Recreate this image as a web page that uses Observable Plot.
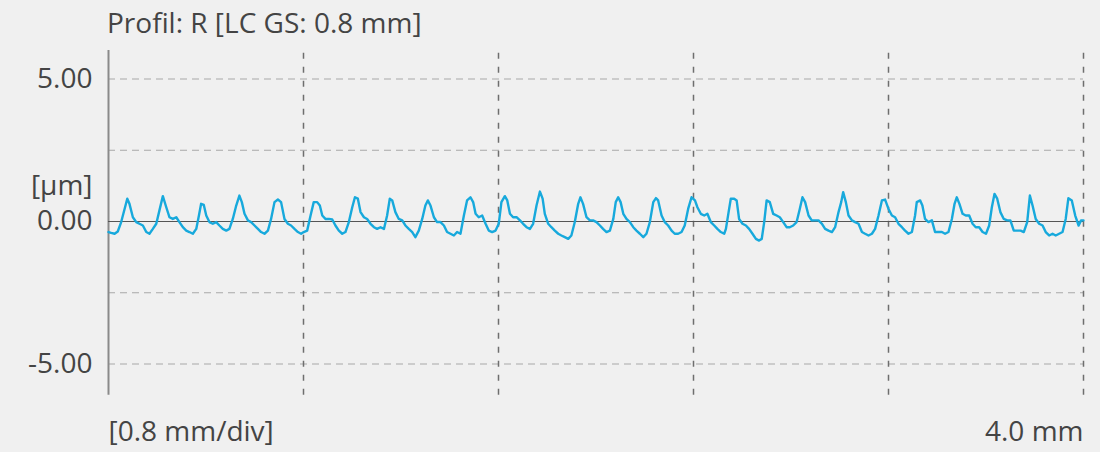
<!DOCTYPE html>
<html>
<head>
<meta charset="utf-8">
<script src="https://cdn.jsdelivr.net/npm/d3@7"></script>
<script src="https://cdn.jsdelivr.net/npm/@observablehq/plot@0.6"></script>
<style>
  html, body { margin: 0; padding: 0; background: #f0f0f0; }
  #wrap { position: relative; width: 1100px; height: 452px; background: #f0f0f0; font-family: "Open Sans", Lato, sans-serif; }
  #title { position: absolute; left: 107px; top: 6px; font-size: 28px; line-height: 32px; color: #444; white-space: nowrap; }
  #chart { position: absolute; left: 0; top: 0; }
</style>
</head>
<body>
<div id="wrap">
  <div id="chart"></div>
  <div id="title">Profil: R [LC GS: 0.8 mm]</div>
</div>
<script>
// Profile position (mm)
const posMm = [
  0.000,0.011,0.025,0.038,0.052,0.066,0.077,0.086,0.100,0.114,0.127,0.141,0.155,0.168,0.182,0.196,0.209,0.223,0.237,0.250,
  0.264,0.278,0.291,0.305,0.319,0.332,0.346,0.360,0.371,0.380,0.391,0.401,0.414,0.428,0.442,0.455,0.469,0.483,0.496,0.510,
  0.524,0.537,0.547,0.558,0.572,0.585,0.599,0.613,0.626,0.640,0.654,0.667,0.681,0.695,0.708,0.722,0.736,0.749,0.763,0.777,
  0.790,0.801,
  0.815,0.829,0.842,0.856,0.867,0.877,0.890,0.904,0.918,0.931,0.945,0.959,0.972,0.986,1.000,1.011,1.023,1.034,1.048,1.061,
  1.075,1.089,1.102,1.116,1.130,1.143,1.154,1.164,1.177,1.191,1.205,1.218,1.232,1.246,1.259,1.273,1.287,1.300,1.310,1.321,
  1.335,1.348,1.362,1.376,1.389,1.403,1.417,1.430,1.444,1.458,1.471,1.485,1.496,1.506,1.519,1.533,1.547,1.560,1.574,1.588,
  1.601,
  1.612,1.626,1.636,1.647,1.660,1.674,1.688,1.701,1.715,1.729,1.742,1.756,1.770,1.781,1.790,1.804,1.817,1.831,1.845,1.858,
  1.872,1.886,1.899,1.913,1.927,1.936,1.947,1.961,1.975,1.988,2.002,2.016,2.029,2.043,2.057,2.071,2.081,2.091,2.101,2.112,
  2.125,2.139,2.153,2.166,2.180,2.194,2.207,2.221,2.235,2.246,2.255,2.269,2.282,2.296,2.310,2.323,2.337,2.351,2.364,2.378,
  2.392,2.406,
  2.416,2.430,2.444,2.457,2.471,2.485,2.498,2.512,2.526,2.533,2.544,2.553,2.567,2.577,2.587,2.601,2.615,2.628,2.642,2.656,
  2.669,2.680,2.690,2.700,2.713,2.727,2.741,2.754,2.768,2.782,2.795,2.809,2.823,2.836,2.847,2.858,2.872,2.885,2.899,2.913,
  2.927,2.940,2.954,2.968,2.981,2.995,3.006,3.014,3.025,3.036,3.050,3.063,3.077,3.091,3.104,3.118,3.132,3.145,3.159,3.173,
  3.186,3.200,3.214,
  3.227,3.241,3.255,3.268,3.282,3.296,3.309,3.316,3.330,3.339,3.350,3.364,3.378,3.391,3.405,3.419,3.432,3.446,3.460,3.471,
  3.480,3.491,3.504,3.517,3.531,3.545,3.558,3.572,3.586,3.600,3.613,3.624,3.635,3.646,3.659,3.673,3.687,3.700,3.714,3.728,
  3.742,3.755,3.769,3.780,3.791,3.804,3.818,3.832,3.845,3.859,3.873,3.886,3.900,3.914,3.927,3.938,3.952,3.966,3.980,3.990,
  4.000
];
// Profile height (µm)
const heightUm = [
  -0.37,-0.40,-0.43,-0.35,-0.02,0.44,0.80,0.62,0.15,-0.02,-0.08,-0.14,-0.37,-0.43,-0.26,-0.08,0.39,0.89,0.50,0.15,
  0.09,0.15,-0.02,-0.20,-0.32,-0.37,-0.43,-0.26,0.21,0.62,0.58,0.21,-0.02,-0.08,-0.02,-0.14,-0.26,-0.32,-0.26,0.09,
  0.56,0.91,0.68,0.27,0.04,-0.02,-0.14,-0.26,-0.37,-0.43,-0.32,0.09,0.68,0.77,0.68,0.09,-0.08,-0.14,-0.26,-0.37,
  -0.43,-0.37,
  -0.32,0.21,0.68,0.68,0.56,0.21,0.09,0.09,0.07,-0.14,-0.32,-0.43,-0.37,-0.02,0.50,0.85,0.80,0.33,0.15,0.09,
  -0.08,-0.20,-0.26,-0.20,-0.26,0.21,0.80,0.74,0.33,0.09,0.04,-0.14,-0.26,-0.37,-0.55,-0.32,0.09,0.56,0.74,0.56,
  0.15,-0.02,-0.02,-0.14,-0.37,-0.43,-0.49,-0.37,-0.43,0.21,0.74,0.85,0.68,0.27,0.15,0.21,-0.08,-0.32,-0.37,-0.32,
  -0.08,
  0.68,0.89,0.74,0.27,0.15,0.15,0.04,-0.08,-0.20,-0.26,-0.08,0.56,1.05,0.80,0.27,-0.08,-0.20,-0.32,-0.43,-0.49,
  -0.55,-0.61,-0.49,-0.02,0.62,0.85,0.62,0.15,0.04,0.04,-0.02,-0.14,-0.26,-0.37,-0.32,0.09,0.68,0.85,0.68,0.27,
  0.09,-0.02,-0.20,-0.32,-0.43,-0.55,-0.43,-0.02,0.68,0.82,0.74,0.21,-0.02,-0.14,-0.32,-0.43,-0.43,-0.37,-0.14,0.44,
  0.85,0.74,
  0.50,0.27,0.21,0.27,-0.02,-0.14,-0.26,-0.37,-0.43,-0.26,0.33,0.80,0.80,0.74,0.09,-0.08,-0.14,-0.26,-0.43,-0.61,
  -0.67,-0.61,-0.02,0.74,0.68,0.27,0.21,0.15,-0.02,-0.20,-0.20,-0.14,-0.02,0.44,0.85,0.68,0.21,0.04,0.04,0.04,
  -0.08,-0.26,-0.32,-0.37,-0.20,0.33,0.68,1.03,0.68,0.21,0.04,-0.02,-0.08,-0.37,-0.43,-0.49,-0.43,-0.26,0.21,0.74,
  0.77,0.44,0.21,
  0.15,-0.08,-0.20,-0.32,-0.43,-0.37,0.21,0.68,0.74,0.56,0.09,-0.02,0.04,-0.37,-0.37,-0.37,-0.43,-0.37,0.09,0.62,
  0.85,0.62,0.27,0.21,0.21,-0.08,-0.20,-0.20,-0.37,-0.43,-0.14,0.50,0.97,0.80,0.33,0.09,0.04,0.04,-0.32,-0.32,
  -0.32,-0.37,-0.02,0.91,0.56,0.09,-0.08,-0.14,-0.37,-0.49,-0.43,-0.49,-0.43,-0.37,0.09,0.82,0.74,0.21,-0.14,0.04,
  0.04
];
const yTicks = [-5, 0, 5];
const yGrid = [-5, -2.5, 2.5, 5];
const xGrid = [0.8, 1.6, 2.4, 3.2, 4.0];
const yUnitLabel = "[µm]";
const xStartLabel = "[0.8 mm/div]";
const xEndLabel = "4.0 mm";

const profile = posMm.map((x, i) => ({x, y: heightUm[i]}));
const FS = 28;

const chart = Plot.plot({
  width: 1100,
  height: 452,
  marginLeft: 108,
  marginRight: 17,
  marginTop: 50,
  marginBottom: 60,
  style: {background: "#f0f0f0", fontFamily: "'Open Sans', Lato, sans-serif", color: "#444"},
  x: {domain: [0, 4], axis: null},
  y: {domain: [-6, 6], axis: null},
  marks: [
    Plot.ruleY(yGrid, {stroke: "#a8a8a8", strokeWidth: 1, strokeDasharray: "7,5"}),
    Plot.ruleX(xGrid, {stroke: "#6e6e6e", strokeWidth: 1.5, strokeDasharray: "6,8", y1: -6.1, y2: 6}),
    Plot.ruleX([0], {stroke: "#8a8a8a", strokeWidth: 2, y1: -6.1, y2: 6}),
    Plot.ruleY([0], {stroke: "#555", strokeWidth: 1}),
    Plot.line(profile, {x: "x", y: "y", stroke: "#17a9dc", strokeWidth: 2.4, curve: "linear"}),
    Plot.axisY(yTicks, {tickFormat: d => d.toFixed(2), tickSize: 0, tickPadding: 16, fontSize: FS, fill: "#444", label: null}),
    Plot.text([yUnitLabel], {x: 0, y: 0, text: d => d, dx: -16, dy: -35, textAnchor: "end", fontSize: FS, fill: "#444"}),
    Plot.text([xStartLabel], {x: 0, y: -6, text: d => d, textAnchor: "start", dy: 40, fontSize: FS, fill: "#444"}),
    Plot.text([xEndLabel], {x: 4, y: -6, text: d => d, textAnchor: "end", dy: 40, fontSize: FS, fill: "#444"})
  ]
});
document.getElementById("chart").appendChild(chart);
</script>
</body>
</html>
